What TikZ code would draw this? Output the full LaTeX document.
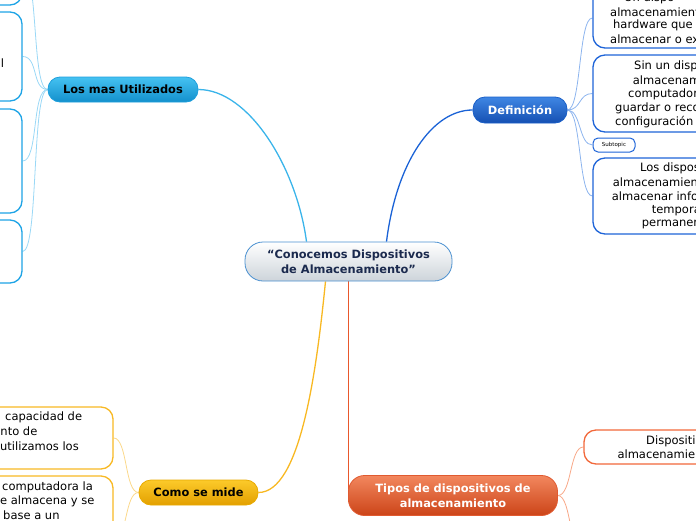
\documentclass[tikz,border=0pt]{standalone}
\usepackage{fontspec}
\setmainfont{DejaVu Sans}
\usetikzlibrary{calc,backgrounds}
\definecolor{lmuTop}{HTML}{45C2F2}
\definecolor{lmuBot}{HTML}{1390CC}
\definecolor{lmuEdge}{HTML}{1E9FDC}
\definecolor{lmuLine}{HTML}{3AB4EA}
\definecolor{lmuSub}{HTML}{9AD8F6}
\definecolor{lmuBox}{HTML}{1EA4E6}
\definecolor{defTop}{HTML}{3F86E4}
\definecolor{defBot}{HTML}{1550B2}
\definecolor{defEdge}{HTML}{1A5FC8}
\definecolor{defLine}{HTML}{1A62D6}
\definecolor{defSub}{HTML}{8CB4EE}
\definecolor{defBox}{HTML}{1E64D8}
\definecolor{medTop}{HTML}{FCCA2A}
\definecolor{medBot}{HTML}{E3A000}
\definecolor{medEdge}{HTML}{E8AA00}
\definecolor{medLine}{HTML}{F8B822}
\definecolor{medSub}{HTML}{FBD88A}
\definecolor{medBox}{HTML}{F8B924}
\definecolor{tipTop}{HTML}{F2875E}
\definecolor{tipBot}{HTML}{CC4418}
\definecolor{tipEdge}{HTML}{E05A30}
\definecolor{tipLine}{HTML}{E9582C}
\definecolor{tipSub}{HTML}{F8A888}
\definecolor{tipBox}{HTML}{F2683A}
\definecolor{cenBot}{HTML}{CDD4DA}
\definecolor{cenEdge}{HTML}{4A90D0}
\definecolor{cenText}{HTML}{1B2A4E}
\begin{document}
\begin{tikzpicture}[x=1pt,y=-1pt,
  topicnode/.style={draw,line width=0.8pt,rounded corners=12pt,align=center,inner sep=0pt,
    font=\bfseries\fontsize{11.4}{15}\selectfont},
  leafbox/.style={draw,fill=white,rounded corners=12pt,line width=1.3pt,inner sep=0pt},
  frag/.style={anchor=west,inner sep=0pt,font=\fontsize{11.5}{14}\selectfont,text=black},
  mainline/.style={line width=1.3pt},
  subline/.style={line width=0.8pt}]
\useasboundingbox (0,0) rectangle (696,520);
\clip (0,0) rectangle (696,520);

% central topic
\node[topicnode,rounded corners=18pt,top color=white,bottom color=cenBot,draw=cenEdge,text=cenText,
  minimum width=207pt,minimum height=39pt] (c) at (348.5,261.5)
  {“Conocemos Dispositivos\\de Almacenamiento”};

% main topics
\node[topicnode,top color=lmuTop,bottom color=lmuBot,draw=lmuEdge,text=black,
  minimum width=150pt,minimum height=25pt] (lmu) at (123,89.5) {Los mas Utilizados};
\node[topicnode,top color=defTop,bottom color=defBot,draw=defEdge,text=white,
  minimum width=94pt,minimum height=26pt] (def) at (520,110) {Definición};
\node[topicnode,top color=medTop,bottom color=medBot,draw=medEdge,text=black,
  minimum width=119pt,minimum height=25pt] (med) at (198.5,492.5) {Como se mide};
\node[topicnode,rounded corners=16pt,top color=tipTop,bottom color=tipBot,draw=tipEdge,text=white,
  minimum width=209pt,minimum height=40pt] (tip) at (453,495.5)
  {Tipos de dispositivos de\\almacenamiento};

% Los mas Utilizados children
\node[leafbox,draw=lmuBox,minimum width=122pt,minimum height=70pt] (u1) at (-39,-30) {};
\node[leafbox,draw=lmuBox,minimum width=122pt,minimum height=89pt] (u2) at (-39,56.5) {};
\node[leafbox,draw=lmuBox,minimum width=122pt,minimum height=104pt] (u3) at (-39,161) {};
\node[leafbox,draw=lmuBox,minimum width=122pt,minimum height=63pt] (u4) at (-39,251.5) {};
\node[frag] (u2t) at (0.8,63) {l};

% Definicion children
\node[leafbox,draw=defBox,minimum width=200pt,minimum height=60pt] (d1) at (693,18) {};
\node[leafbox,draw=defBox,minimum width=200pt,minimum height=77pt] (d2) at (693,93.5) {};
\node[leafbox,draw=defBox,rounded corners=5pt,line width=1pt,minimum width=42pt,minimum height=14pt,
  font=\fontsize{5.5}{6}\selectfont] (d3) at (614,145) {Subtopic};
\node[leafbox,draw=defBox,minimum width=200pt,minimum height=76pt] (d4) at (693,196) {};

\node[frag] (d1a) at (624,-2) {Un dispo};
\node[frag] (d1b) at (610,12) {almacenamient};
\node[frag] (d1c) at (613,25.5) {hardware que};
\node[frag] (d1d) at (610,39) {almacenar o ex};

\node[frag] (d2a) at (634,66) {Sin un disp};
\node[frag] (d2b) at (632.7,80) {almacenam};
\node[frag] (d2c) at (628,94) {computador};
\node[frag] (d2d) at (615,108) {guardar o reco};
\node[frag] (d2e) at (615,122) {configuración};

\node[frag] (d4a) at (640,168.5) {Los dispos};
\node[frag] (d4b) at (612.7,182.5) {almacenamien};
\node[frag] (d4c) at (611.7,196.5) {almacenar info};
\node[frag] (d4d) at (651.7,210.5) {tempora};
\node[frag] (d4e) at (641.7,224.5) {permaner};

% Como se mide children
\node[leafbox,draw=medBox,minimum width=200pt,minimum height=62pt] (m1) at (13,438) {};
\node[leafbox,draw=medBox,minimum width=200pt,minimum height=128pt] (m2) at (13,540) {};
\node[frag] (m1a) at (5,417) {capacidad de};
\node[frag] (m1b) at (0.3,431.5) {nto de};
\node[frag] (m1c) at (0,446) {utilizamos los};
\node[frag] (m2a) at (2,487.5) {computadora la};
\node[frag] (m2b) at (0,501.5) {e almacena y se};
\node[frag] (m2c) at (3,515.5) {base a un};

% Tipos children
\node[leafbox,draw=tipBox,minimum width=200pt,minimum height=34pt] (t1) at (684,447) {};
\coordinate (t2) at (584,560);
\node[frag] (t1a) at (646,441) {Dispositi};
\node[frag] (t1b) at (617.3,454.5) {almacenamien};

\begin{scope}[on background layer]
  % main connectors
  \draw[mainline,lmuLine] ($(c.north)+(-42,0)$) .. controls ($(c.north)+(-52,-75)$) and ($(lmu.east)+(50,0)$) .. (lmu.east);
  \draw[mainline,defLine] ($(c.north)+(38,0)$) .. controls ($(c.north)+(48,-80)$) and ($(def.west)+(-40,0)$) .. (def.west);
  \draw[mainline,medLine] ($(c.south)+(-23,0)$) .. controls ($(c.south)+(-32,90)$) and ($(med.east)+(42,0)$) .. (med.east);
  \draw[mainline,tipLine] (c.south) -- ($(c.south)+(0,212)$);
  % Los mas Utilizados sub-connectors
  \foreach \b in {u1,u2,u3,u4}
    \draw[subline,lmuSub] (lmu.west) .. controls ($(lmu.west)+(-16,0)$) and ($(\b.east)+(16,0)$) .. (\b.east);
  % Definicion sub-connectors
  \foreach \b in {d1,d2,d3,d4}
    \draw[subline,defSub] (def.east) .. controls ($(def.east)+(14,0)$) and ($(\b.west)+(-14,0)$) .. (\b.west);
  % Como se mide sub-connectors
  \foreach \b in {m1,m2}
    \draw[subline,medSub] (med.west) .. controls ($(med.west)+(-14,0)$) and ($(\b.east)+(14,0)$) .. (\b.east);
  % Tipos sub-connectors
  \draw[subline,tipSub] (tip.east) .. controls ($(tip.east)+(14,0)$) and ($(t1.west)+(-14,0)$) .. (t1.west);
  \draw[subline,tipSub] (tip.east) .. controls ($(tip.east)+(14,0)$) and ($(t2)+(-14,0)$) .. (t2);
\end{scope}
\end{tikzpicture}
\end{document}
